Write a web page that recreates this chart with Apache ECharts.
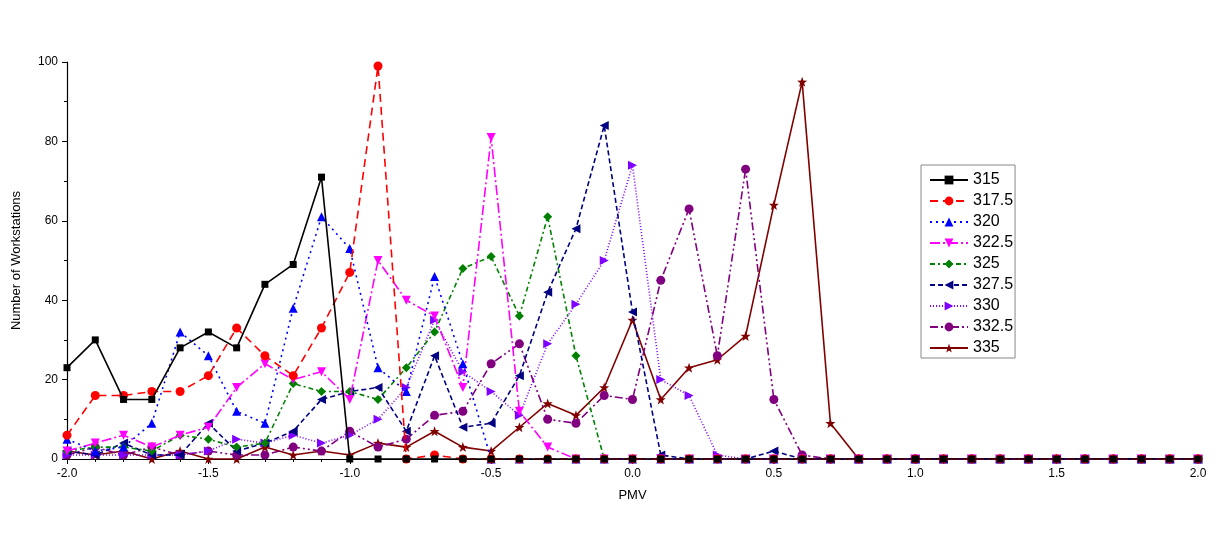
<!DOCTYPE html>
<html><head><meta charset="utf-8">
<script src="https://cdn.jsdelivr.net/npm/echarts@6/dist/echarts.min.js"></script>
<style>html,body{margin:0;padding:0;background:#fff}#c{width:1219px;height:547px}</style>
</head><body><div id="c"></div>
<script>
const pmv = [-2.0,-1.9,-1.8,-1.7,-1.6,-1.5,-1.4,-1.3,-1.2,-1.1,-1.0,-0.9,-0.8,-0.7,-0.6,-0.5,-0.4,-0.3,-0.2,-0.1,0.0,0.1,0.2,0.3,0.4,0.5,0.6,0.7,0.8,0.9,1.0,1.1,1.2,1.3,1.4,1.5,1.6,1.7,1.8,1.9,2.0];
const s315   = [23,30,15,15,28,32,28,44,49,71,0,0,0,0,0,0,0,0,0,0,0,0,0,0,0,0,0,0,0,0,0,0,0,0,0,0,0,0,0,0,0];
const s317_5 = [6,16,16,17,17,21,33,26,21,33,47,99,0,1,0,0,0,0,0,0,0,0,0,0,0,0,0,0,0,0,0,0,0,0,0,0,0,0,0,0,0];
const s320   = [5,2,3,9,32,26,12,9,38,61,53,23,17,46,24,0,0,0,0,0,0,0,0,0,0,0,0,0,0,0,0,0,0,0,0,0,0,0,0,0,0];
const s322_5 = [2,4,6,3,6,8,18,24,20,22,15,50,40,36,18,81,12,3,0,0,0,0,0,0,0,0,0,0,0,0,0,0,0,0,0,0,0,0,0,0,0];
const s325   = [2,3,3,2,6,5,3,4,19,17,17,15,23,32,48,51,36,61,26,0,0,0,0,0,0,0,0,0,0,0,0,0,0,0,0,0,0,0,0,0,0];
const s327_5 = [2,1,4,1,1,9,2,4,7,15,17,18,7,26,8,9,21,42,58,84,37,1,0,0,0,2,0,0,0,0,0,0,0,0,0,0,0,0,0,0,0];
const s330   = [1,1,1,1,1,2,5,4,6,4,6,10,18,35,22,17,11,29,39,50,74,20,16,1,0,0,0,0,0,0,0,0,0,0,0,0,0,0,0,0,0];
const s332_5 = [1,3,1,3,1,2,1,1,3,2,7,3,5,11,12,24,29,10,9,16,15,45,63,26,73,15,1,0,0,0,0,0,0,0,0,0,0,0,0,0,0];
const s335   = [2,1,2,0,2,0,0,3,1,2,1,4,3,7,3,2,8,14,11,18,35,15,23,25,31,64,95,9,0,0,0,0,0,0,0,0,0,0,0,0,0];
const names = ['315','317.5','320','322.5','325','327.5','330','332.5','335'];
const values = [s315,s317_5,s320,s322_5,s325,s327_5,s330,s332_5,s335];
const colors = ['#000000','#FF0000','#0000FF','#FF00FF','#008000','#000080','#8000FF','#800080','#800000'];
const dashes = ['solid',[8,5],[2,4],[10,3,2,3],[5,3,2,3],[5,3],[1,2],[8,3,2,3,2,3],'solid'];
const star = 'path://M0,-10 L2.35,-3.24 L9.51,-3.09 L3.8,1.24 L5.88,8.09 L0,4 L-5.88,8.09 L-3.8,1.24 L-9.51,-3.09 L-2.35,-3.24 Z';
const symbols = ['rect','circle','triangle','triangle','diamond','triangle','triangle','circle',star];
const rotates = [0,0,0,180,0,90,-90,0,0];
const sizes = [7,9,9,9,9,9,9,9,10];

const series = names.map((n,i)=>({
  name:n, type:'line',
  data: pmv.map((x,j)=>[x, values[i][j]]),
  symbol: symbols[i], symbolRotate: rotates[i], symbolSize: sizes[i],
  lineStyle:{color:colors[i], width:1.6, type:dashes[i]},
  itemStyle:{color:colors[i]},
  z: 10-i, animation:false
}));

const chart = echarts.init(document.getElementById('c'), null, {renderer:'canvas'});
chart.setOption({
  animation:false,
  backgroundColor:'#fff',
  textStyle:{fontFamily:'Liberation Sans, Arial, sans-serif'},
  grid:{left:67, right:21, top:62, bottom:88, containLabel:false},
  legend:{
    orient:'vertical', left:921, top:165,
    data:names,
    itemWidth:38, itemHeight:11, itemGap:5,
    borderColor:'#888', borderWidth:1, padding:[7,2,2,8],
    textStyle:{fontSize:16, color:'#000', fontFamily:'Liberation Sans, Arial, sans-serif'}
  },
  xAxis:{
    type:'value', min:-2, max:2, interval:0.5,
    name:'PMV', nameLocation:'middle', nameGap:30,
    nameTextStyle:{fontSize:13, color:'#000'},
    axisLine:{show:true, onZero:false, lineStyle:{color:'#000', width:1.2}},
    axisTick:{show:true, inside:false, length:5, lineStyle:{color:'#000'}},
    minorTick:{show:true, splitNumber:5, length:3, lineStyle:{color:'#000'}},
    splitLine:{show:false},
    axisLabel:{fontSize:12, color:'#000', formatter:v=>v.toFixed(1), margin:9}
  },
  yAxis:{
    type:'value', min:0, max:100, interval:20,
    name:'Number of Workstations', nameLocation:'middle', nameGap:44, nameRotate:90,
    nameTextStyle:{fontSize:13, color:'#000'},
    axisLine:{show:true, onZero:false, lineStyle:{color:'#000', width:1.2}},
    axisTick:{show:true, inside:false, length:5, lineStyle:{color:'#000'}},
    minorTick:{show:true, splitNumber:2, length:3, lineStyle:{color:'#000'}},
    splitLine:{show:false},
    axisLabel:{fontSize:12, color:'#000', margin:9}
  },
  series: series
});
</script>
</body></html>
